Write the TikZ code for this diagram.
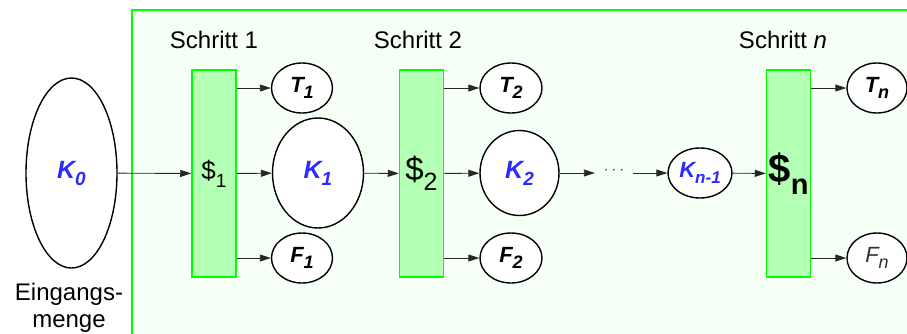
\documentclass[tikz,border=0pt]{standalone}
\usepackage{fontspec}
\setmainfont{Liberation Sans}
\usetikzlibrary{shapes.geometric,arrows.meta}
\definecolor{frameg}{HTML}{00FF00}
\definecolor{framebg}{HTML}{F6FFF6}
\definecolor{boxfill}{HTML}{B3FFB3}
\definecolor{kblue}{HTML}{2B2BFF}
\newcommand{\mysub}[2]{\raisebox{-0.28em}{\fontsize{#1}{#1}\selectfont #2}}
\newcommand{\klab}[3]{\textcolor{kblue}{\bfseries\itshape #1\mysub{#3}{#2}}}
\newcommand{\tlab}[2]{{\bfseries\itshape #1\mysub{18}{#2}}}
\begin{document}
\begin{tikzpicture}[x=1pt,y=-1pt,
  set/.style={ellipse,draw=black,line width=1.4pt,fill=white,inner sep=0pt},
  stepbox/.style={rectangle,draw=frameg,line width=1.5pt,fill=boxfill,minimum width=44pt,minimum height=207pt,inner sep=0pt},
  arr/.style={-{Triangle[length=11pt,width=7pt]},line width=0.9pt,black!85},
  steplabel/.style={font=\fontsize{24}{28}\selectfont,inner sep=0pt},
  tf/.style={font=\fontsize{22}{24}\selectfont},
  kf/.style={font=\fontsize{25}{28}\selectfont},
]
\useasboundingbox (0,0) rectangle (907,333);
\clip (0,0) rectangle (907,333);
\fill[framebg] (132,10) rectangle (920,345);
\draw[frameg,line width=2pt] (920,10) -- (132,10) -- (132,345);

% input set
\node[set,kf,minimum width=91pt,minimum height=190pt] (k0) at (71.5,173) {\klab{K}{0}{19}};
\node[font=\fontsize{24}{27}\selectfont,align=center,anchor=north,inner sep=0pt] (eing) at (69,283) {Eingangs-\\menge};

% step labels
\node[steplabel] (l1) at (214,40) {Schritt 1};
\node[steplabel] (l2) at (418,40) {Schritt 2};
\node[steplabel] (ln) at (783,40) {Schritt \textit{n}};

% step boxes
\node[stepbox,font=\fontsize{26}{30}\selectfont] (s1) at (214,173.5) {\$\raisebox{-0.3em}{\fontsize{19}{22}\selectfont 1}};
\node[stepbox,font=\fontsize{33}{38}\selectfont] (s2) at (421.5,173.5) {\$\raisebox{-0.3em}{\fontsize{25}{30}\selectfont 2}};
\node[stepbox,font=\fontsize{40}{46}\selectfont\bfseries] (sn) at (788.5,173.5) {\$\raisebox{-0.3em}{\fontsize{29}{34}\selectfont\bfseries n}};

% outputs step 1
\node[set,tf,minimum width=61pt,minimum height=50pt] (t1) at (302,88) {\tlab{T}{1}};
\node[set,kf,minimum width=91pt,minimum height=110pt] (k1) at (318,173) {\klab{K}{1}{19}};
\node[set,tf,minimum width=61pt,minimum height=50pt] (f1) at (302,258) {\tlab{F}{1}};

% outputs step 2
\node[set,tf,minimum width=62pt,minimum height=50pt] (t2) at (511,88) {\tlab{T}{2}};
\node[set,kf,minimum width=79pt,minimum height=85pt] (k2) at (519.5,173) {\klab{K}{2}{19}};
\node[set,tf,minimum width=62pt,minimum height=50pt] (f2) at (511,258) {\tlab{F}{2}};

% dots and K_{n-1}
\node[minimum width=38pt,inner sep=0pt,font=\fontsize{16}{18}\selectfont,text=black!70] (dots) at (614,173) {\raisebox{0.25em}{$\cdots$}};
\node[set,font=\fontsize{22}{24}\selectfont,minimum width=64pt,minimum height=50pt] (kn1) at (700,173) {\klab{K}{n-1}{17}};

% outputs step n
\node[set,tf,minimum width=60pt,minimum height=50pt] (tn) at (877,88) {\tlab{T}{n}};
\node[set,tf,minimum width=60pt,minimum height=50pt] (fn) at (877,258) {\textcolor{black!80}{\itshape F\mysub{18}{n}}};

% connectors
\draw[arr] (k0) -- (s1);
\draw[arr] (s1.east |- t1) -- (t1);
\draw[arr] (s1) -- (k1);
\draw[arr] (s1.east |- f1) -- (f1);
\draw[arr] (k1) -- (s2);
\draw[arr] (s2.east |- t2) -- (t2);
\draw[arr] (s2) -- (k2);
\draw[arr] (s2.east |- f2) -- (f2);
\draw[arr] (k2) -- (dots);
\draw[arr] (dots) -- (kn1);
\draw[arr] (kn1) -- (sn);
\draw[arr] (sn.east |- tn) -- (tn);
\draw[arr] (sn.east |- fn) -- (fn);
\end{tikzpicture}
\end{document}
